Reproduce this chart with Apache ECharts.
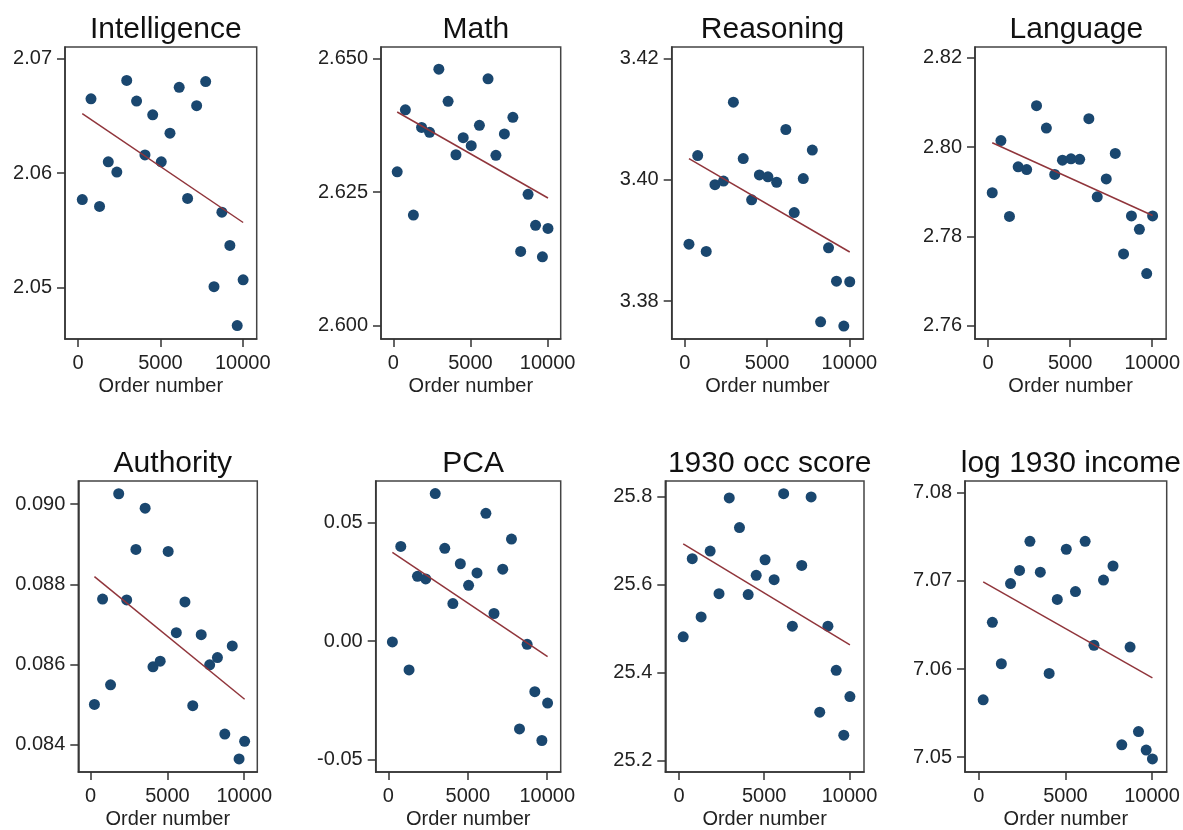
<!DOCTYPE html>
<html>
<head>
<meta charset="utf-8">
<script src="https://cdn.jsdelivr.net/npm/echarts@6/dist/echarts.min.js"></script>
<style>
html,body{margin:0;padding:0;background:#ffffff;}
#chart{width:1183px;height:830px;}
</style>
</head>
<body>
<div id="chart"></div>
<script>
// ---- data ----
const orderNumber = [250, 780, 1300, 1830, 2350, 2950, 3550, 4060, 4530, 5050, 5580, 6140, 6650, 7200, 7750, 8255, 8735, 9220, 9665, 10025];

const panelTitles = ['Intelligence', 'Math', 'Reasoning', 'Language', 'Authority', 'PCA', '1930 occ score', 'log 1930 income'];
const xTickLabels = ['0', '5000', '10000'];
const xAxisTitle = 'Order number';

const intelligence = [2.0577, 2.0665, 2.0571, 2.0610, 2.0601, 2.0681, 2.0663, 2.0616, 2.0651, 2.0610, 2.0635, 2.0675, 2.0578, 2.0659, 2.0680, 2.0501, 2.0566, 2.0537, 2.0467, 2.0507];
const math = [2.6288, 2.6404, 2.6207, 2.6371, 2.6362, 2.6480, 2.6420, 2.6320, 2.6352, 2.6337, 2.6375, 2.6462, 2.6319, 2.6359, 2.6390, 2.6139, 2.6246, 2.6188, 2.6129, 2.6182];
const reasoning = [3.3894, 3.4040, 3.3882, 3.3992, 3.3998, 3.4128, 3.4035, 3.3967, 3.4008, 3.4005, 3.3996, 3.4083, 3.3946, 3.4002, 3.4049, 3.3766, 3.3888, 3.3833, 3.3759, 3.3832];
const language = [2.7898, 2.8015, 2.7845, 2.7956, 2.7950, 2.8093, 2.8043, 2.7939, 2.7971, 2.7974, 2.7973, 2.8064, 2.7889, 2.7929, 2.7986, 2.7761, 2.7846, 2.7816, 2.7717, 2.7846];
const authority = [0.08500, 0.08763, 0.08549, 0.09026, 0.08761, 0.08887, 0.08990, 0.08594, 0.08608, 0.08882, 0.08679, 0.08756, 0.08497, 0.08674, 0.08599, 0.08617, 0.08426, 0.08646, 0.08364, 0.08408];
const pca = [-0.0004, 0.0399, -0.0122, 0.0273, 0.0262, 0.0622, 0.0391, 0.0158, 0.0326, 0.0235, 0.0287, 0.0539, 0.0116, 0.0303, 0.0430, -0.0371, -0.0014, -0.0214, -0.0420, -0.0262];
const occScore1930 = [25.4815, 25.6589, 25.5268, 25.6762, 25.5796, 25.7970, 25.7298, 25.5774, 25.6211, 25.6566, 25.6113, 25.8068, 25.5057, 25.6438, 25.7992, 25.3102, 25.5057, 25.4053, 25.2581, 25.3457];
const logIncome1930 = [7.0565, 7.0653, 7.0606, 7.0697, 7.0712, 7.0745, 7.0710, 7.0595, 7.0679, 7.0736, 7.0688, 7.0745, 7.0627, 7.0701, 7.0717, 7.0514, 7.0625, 7.0529, 7.0508, 7.0498];

// linear-fit line: value at first and last order number
const fitIntelligence = [2.0652, 2.0557];
const fitMath = [2.6400, 2.6239];
const fitReasoning = [3.4035, 3.3881];
const fitLanguage = [2.8010, 2.7847];
const fitAuthority = [0.08819, 0.08513];
const fitPca = [0.0374, -0.0066];
const fitOccScore = [25.6928, 25.4634];
const fitLogIncome = [7.0699, 7.0590];

// y tick labels
const yTicksIntelligence = ['2.05', '2.06', '2.07'];
const yTicksMath = ['2.600', '2.625', '2.650'];
const yTicksReasoning = ['3.38', '3.40', '3.42'];
const yTicksLanguage = ['2.76', '2.78', '2.80', '2.82'];
const yTicksAuthority = ['0.084', '0.086', '0.088', '0.090'];
const yTicksPca = ['-0.05', '0.00', '0.05'];
const yTicksOccScore = ['25.2', '25.4', '25.6', '25.8'];
const yTicksLogIncome = ['7.05', '7.06', '7.07', '7.08'];

// axis ranges
const xRange = [-800, 10850];
const yRanges = [
  [2.04553, 2.07102], [2.59752, 2.65216], [3.37376, 3.42190], [2.75703, 2.82246],
  [0.083313, 0.090578], [-0.05529, 0.06752], [25.1744, 25.8355], [7.04831, 7.08135]
];

// ---- layout / style ----
const panelValues = [intelligence, math, reasoning, language, authority, pca, occScore1930, logIncome1930];
const panelFits = [fitIntelligence, fitMath, fitReasoning, fitLanguage, fitAuthority, fitPca, fitOccScore, fitLogIncome];
const panelTicks = [yTicksIntelligence, yTicksMath, yTicksReasoning, yTicksLanguage, yTicksAuthority, yTicksPca, yTicksOccScore, yTicksLogIncome];

const boxes = [
  [65, 47, 191.7, 292], [381, 47, 179.7, 292], [671.7, 47, 191.6, 292], [975, 47, 192.7, 292],
  [78.3, 481, 179, 293], [375.7, 481, 185, 292.5], [665.3, 481, 198.7, 292.5], [965, 481, 201.7, 293]
];

const FONT = "'Liberation Sans', Arial, Helvetica, sans-serif";
const NAVY = '#1a476f';
const MAROON = '#90353b';
const AXIS = '#333333';

const grids = [], xAxes = [], yAxes = [], series = [], titles = [];
const xTickValues = xTickLabels.map(Number);

boxes.forEach((b, i) => {
  grids.push({
    left: b[0], top: b[1], width: b[2], height: b[3],
    show: true, borderColor: '#444', borderWidth: 1.5, backgroundColor: '#ffffff'
  });
  xAxes.push({
    type: 'value', gridIndex: i, min: xRange[0], max: xRange[1],
    name: xAxisTitle, nameLocation: 'middle', nameGap: 37,
    nameTextStyle: { fontSize: 20, color: '#222', fontFamily: FONT },
    axisLine: { show: true, onZero: false, lineStyle: { color: AXIS, width: 1.5 } },
    axisTick: { show: true, length: 8, lineStyle: { color: AXIS, width: 1.5 }, customValues: xTickValues },
    axisLabel: { fontSize: 20, color: '#222', fontFamily: FONT, margin: 14, customValues: xTickValues,
      formatter: v => xTickLabels[xTickValues.indexOf(v)] ?? '' },
    splitLine: { show: false }
  });
  const tl = panelTicks[i];
  const tv = tl.map(Number);
  yAxes.push({
    type: 'value', gridIndex: i, min: yRanges[i][0], max: yRanges[i][1],
    axisLine: { show: true, onZero: false, lineStyle: { color: AXIS, width: 1.5 } },
    axisTick: { show: true, length: 8, lineStyle: { color: AXIS, width: 1.5 }, customValues: tv },
    axisLabel: { fontSize: 20, color: '#222', fontFamily: FONT, margin: 13, customValues: tv,
      formatter: v => {
        let best = 0, d = Infinity;
        tv.forEach((t, k) => { if (Math.abs(t - v) < d) { d = Math.abs(t - v); best = k; } });
        return tl[best];
      } },
    splitLine: { show: false }
  });
  series.push({
    type: 'scatter', xAxisIndex: i, yAxisIndex: i,
    symbol: 'circle', symbolSize: 11,
    itemStyle: { color: NAVY, opacity: 1 },
    data: orderNumber.map((x, k) => [x, panelValues[i][k]])
  });
  series.push({
    type: 'line', xAxisIndex: i, yAxisIndex: i,
    symbol: 'none', lineStyle: { color: MAROON, width: 1.5 },
    data: [[orderNumber[0], panelFits[i][0]], [orderNumber[orderNumber.length - 1], panelFits[i][1]]]
  });
  titles.push({
    text: panelTitles[i], left: b[0] + b[2] / 2, top: i < 4 ? 10 : 444, textAlign: 'center',
    textStyle: { fontSize: 30, fontWeight: 'normal', color: '#111', fontFamily: FONT }
  });
});

const chart = echarts.init(document.getElementById('chart'), null, { renderer: 'canvas' });
chart.setOption({
  animation: false,
  backgroundColor: '#ffffff',
  title: titles,
  grid: grids,
  xAxis: xAxes,
  yAxis: yAxes,
  series: series
});
</script>
</body>
</html>
